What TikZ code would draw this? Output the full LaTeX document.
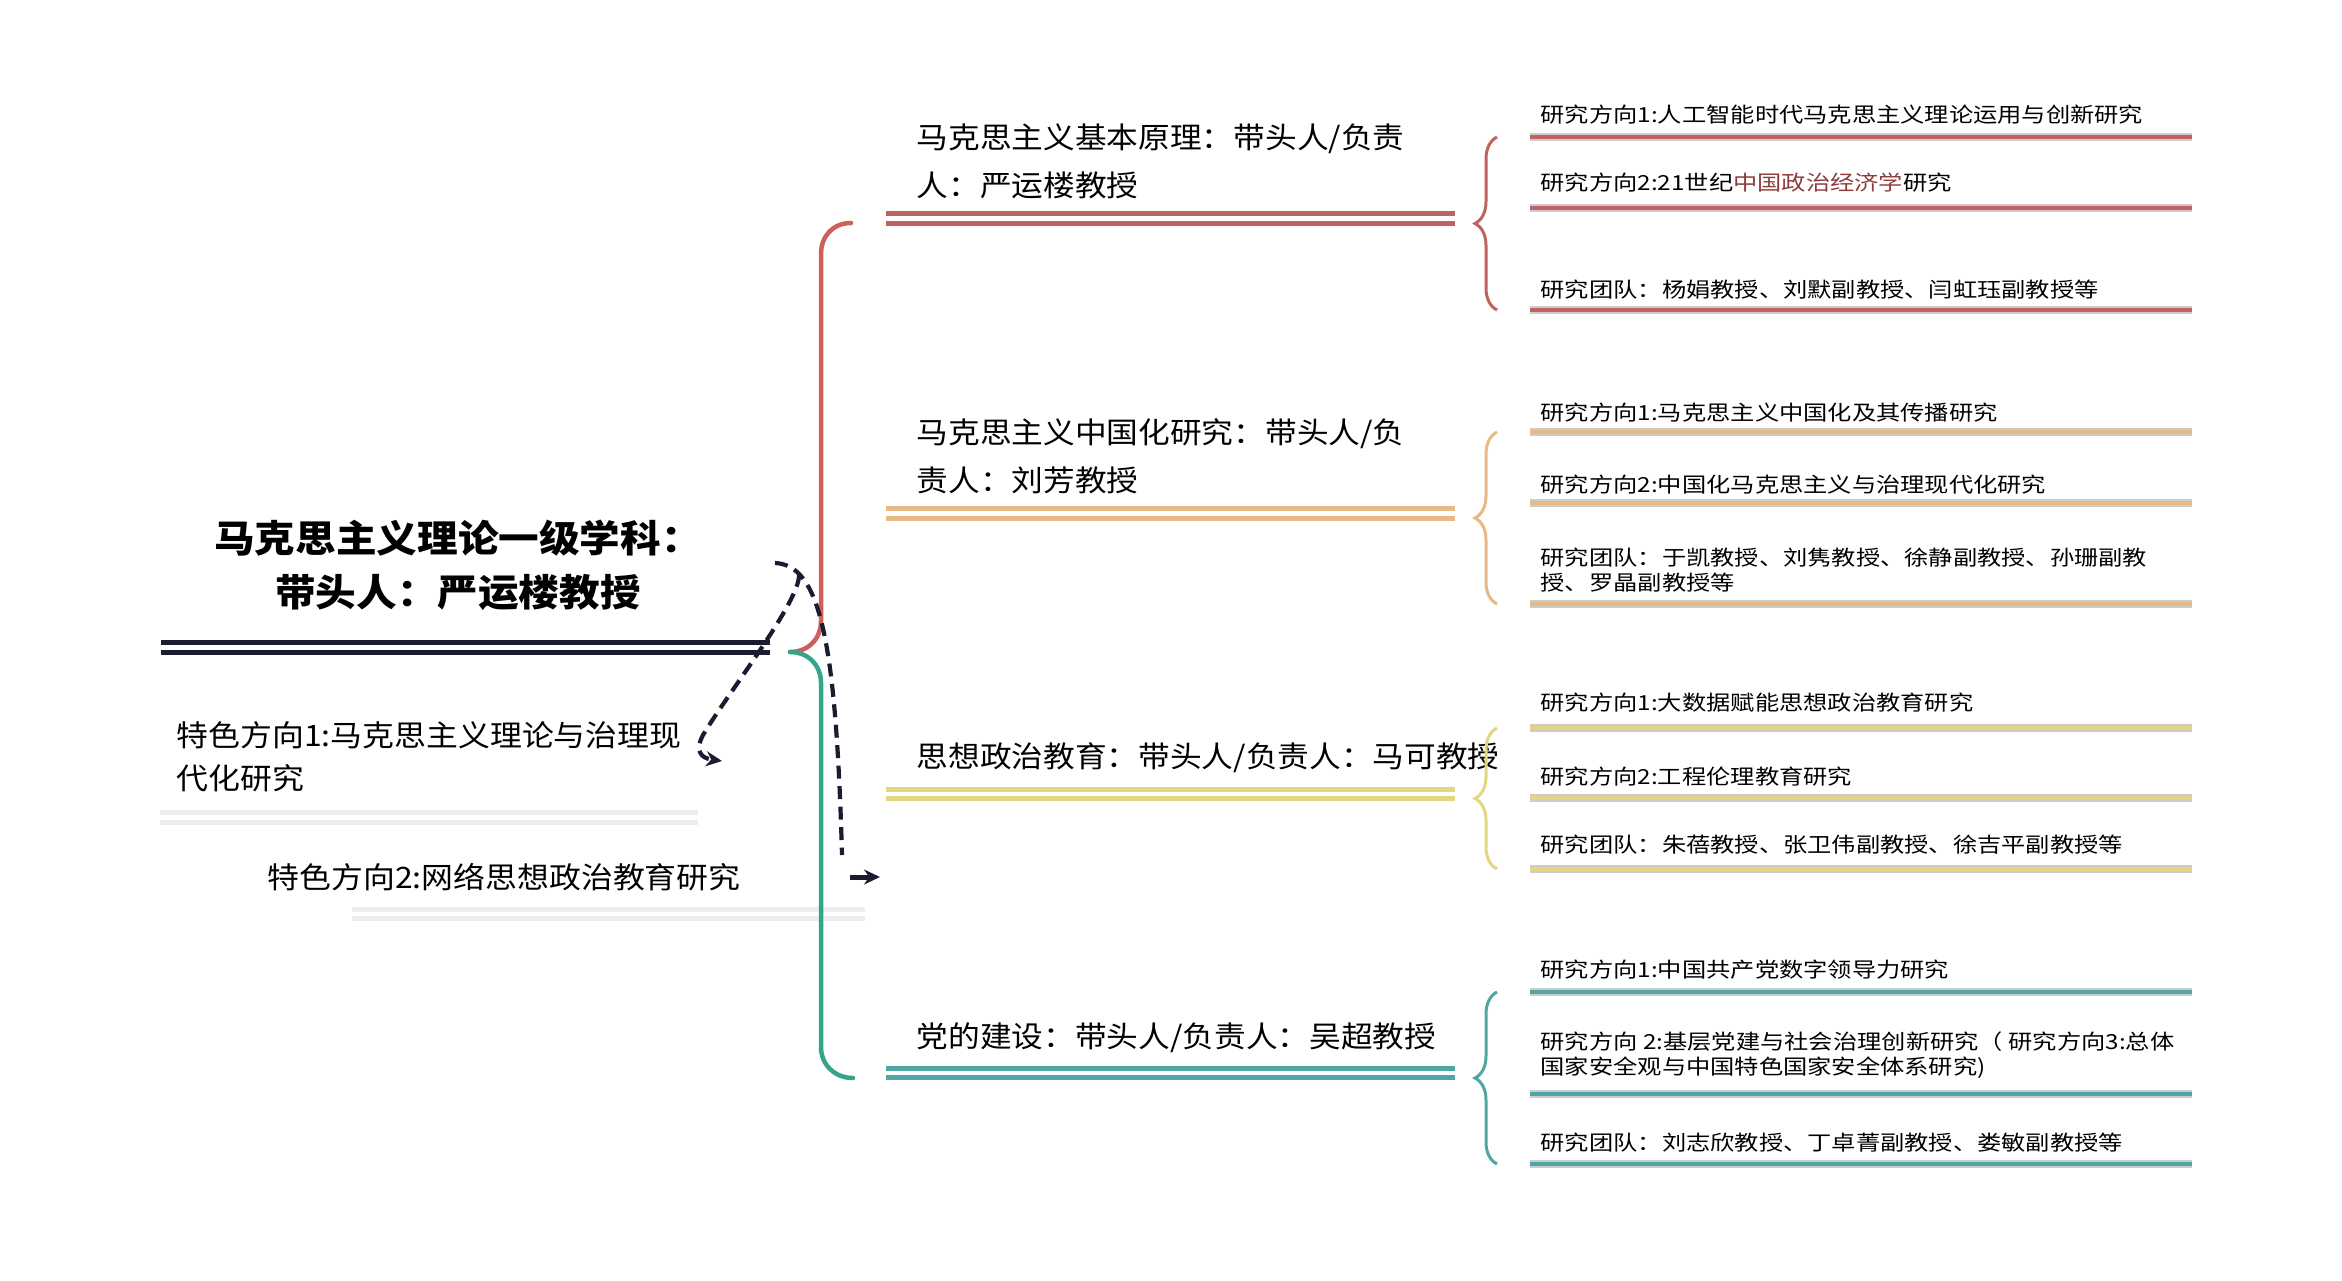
\documentclass[tikz,border=0pt]{standalone}
\usepackage{fontspec}
\setmainfont{Noto Sans CJK SC}[FakeStretch=1.17]
\newfontfamily\grosse{Noto Sans CJK SC}[FakeStretch=1.08]
\usetikzlibrary{arrows.meta,decorations.pathreplacing}
\definecolor{encre}{HTML}{1C1C30}
\definecolor{rouge}{HTML}{C0625F}
\definecolor{rougeg}{HTML}{CF5F5B}
\definecolor{peche}{HTML}{E6B985}
\definecolor{jaune}{HTML}{E2D780}
\definecolor{sarcelle}{HTML}{4FA7A3}
\definecolor{vertg}{HTML}{34A58B}
\definecolor{brique}{HTML}{8E3B3B}
\definecolor{gris}{HTML}{EDEDED}
\begin{document}
\begin{tikzpicture}[x=0.1mm,y=-0.1mm]
  \tikzstyle{titre}=[font=\grosse\bfseries\fontsize{10.7}{15.4}\selectfont, align=center, inner sep=0pt]
  \tikzstyle{branche}=[font=\grosse\fontsize{8.35}{13.7}\selectfont, align=left, anchor=west, inner sep=0pt]
  \tikzstyle{special}=[font=\grosse\fontsize{8.4}{12.2}\selectfont, align=left, anchor=west, inner sep=0pt]
  \tikzstyle{sous}=[font=\fontsize{5.9}{7.1}\selectfont, align=left, anchor=west, inner sep=0pt]
  \tikzstyle{trait}=[line width=0.42mm, preaction={draw, line width=0.8mm, opacity=0.2}]
  \tikzstyle{double trait}=[line width=0.5mm, double=white, double distance=0.42mm]
  \tikzstyle{accolade}=[line width=0.3mm, decorate, decoration={brace, amplitude=2.2mm}]
  \tikzstyle{gauche}=[line width=0.45mm, line cap=round]
  \tikzstyle{tirets}=[encre, line width=0.42mm, dash pattern=on 1.3mm off 0.75mm]
  \tikzstyle{fleche}=[-{Stealth[length=1.6mm, width=1.5mm]}]
  \useasboundingbox (0,0) rectangle (2342,1280);
  % racine et directions
  \draw (458,565) node[titre] (racine) {马克思主义理论一级学科：\\带头人：严运楼教授};
  \draw[double trait, draw=encre, line width=0.55mm] (161,647.5) -- (770,647.5);
  \draw (176,757) node[special] (sp1) {特色方向1:马克思主义理论与治理现\\代化研究};
  \draw (267,877) node[special] (sp2) {特色方向2:网络思想政治教育研究};
  \draw[double trait, draw=gris] (160,817.5) -- (698,817.5);
  \draw[double trait, draw=gris] (352,914) -- (865,914);
  % grande accolade
  \coordinate (pivot) at (790,652);
  \coordinate (hautR) at (851,223);
  \coordinate (basS) at (853,1078);
  \draw[gauche, draw=rougeg] (pivot) .. controls (808,652) and (821,639) .. (821,621)
    -- (821,254) .. controls (821,236) and (833,223) .. (hautR);
  \draw[gauche, draw=vertg] (pivot) .. controls (808,652) and (821,665) .. (821,683)
    -- (821,1047) .. controls (821,1065) and (835,1078) .. (basS);
  % tirets
  \coordinate (crochet) at (775,563);
  \coordinate (depart) at (799,574);
  \coordinate (bout) at (842,855);
  \coordinate (pointe) at (722,761);
  \draw[tirets] (crochet) .. controls (820,565) and (836,640) .. (bout);
  \draw[tirets, fleche] (depart) .. controls (801,600) and (730,690) .. (703,735)
    .. controls (695,750) and (700,758) .. (pointe);
  \coordinate (f2a) at (850,877);
  \coordinate (f2b) at (880,877);
  \draw[fleche, line width=0.5mm, encre] (f2a) -- (f2b);
  % branches
  \foreach \n/\col/\y/\ly/\txt in {bR/rouge/161/218.5/{马克思主义基本原理：带头人/负责\\人：严运楼教授},
      bO/peche/456/513.5/{马克思主义中国化研究：带头人/负\\责人：刘芳教授},
      bJ/jaune/758/794/{思想政治教育：带头人/负责人：马可教授},
      bS/sarcelle/1038/1073/{党的建设：带头人/负责人：吴超教授}} {
    \draw (916,\y) node[branche] (\n) {\txt};
    \draw[double trait, draw=\col] (886,\ly) -- (1455,\ly);
  }
  % sous-directions
  \foreach \n/\col/\y/\ly/\txt in {r1/rouge/115/137/{研究方向1:人工智能时代马克思主义理论运用与创新研究},
      r2/rouge/183/208/{研究方向2:21世纪\textcolor{brique}{中国政治经济学}研究},
      r3/rouge/290/310/{研究团队：杨娟教授、刘默副教授、闫虹珏副教授等},
      o1/peche/413/432/{研究方向1:马克思主义中国化及其传播研究},
      o2/peche/485/503/{研究方向2:中国化马克思主义与治理现代化研究},
      o3/peche/570/604/{研究团队：于凯教授、刘隽教授、徐静副教授、孙珊副教\\授、罗晶副教授等},
      j1/jaune/703/728/{研究方向1:大数据赋能思想政治教育研究},
      j2/jaune/777/798/{研究方向2:工程伦理教育研究},
      j3/jaune/845/869/{研究团队：朱蓓教授、张卫伟副教授、徐吉平副教授等},
      s1/sarcelle/970/992/{研究方向1:中国共产党数字领导力研究},
      s2/sarcelle/1055/1094/{研究方向 2:基层党建与社会治理创新研究（ 研究方向3:总体\\国家安全观与中国特色国家安全体系研究)},
      s3/sarcelle/1143/1164/{研究团队：刘志欣教授、丁卓菁副教授、娄敏副教授等}} {
    \draw (1540,\y) node[sous] (\n) {\txt};
    \draw[trait, draw=\col] (1530,\ly) coordinate (\n-a) -- (2192,\ly);
  }
  \foreach \col/\h/\b in {rouge/r1/r3, peche/o1/o3, jaune/j1/j3, sarcelle/s1/s3} {
    \draw[accolade, draw=\col] ([xshift=-3.3mm]\b-a) -- ([xshift=-3.3mm]\h-a);
  }
\end{tikzpicture}
\end{document}
